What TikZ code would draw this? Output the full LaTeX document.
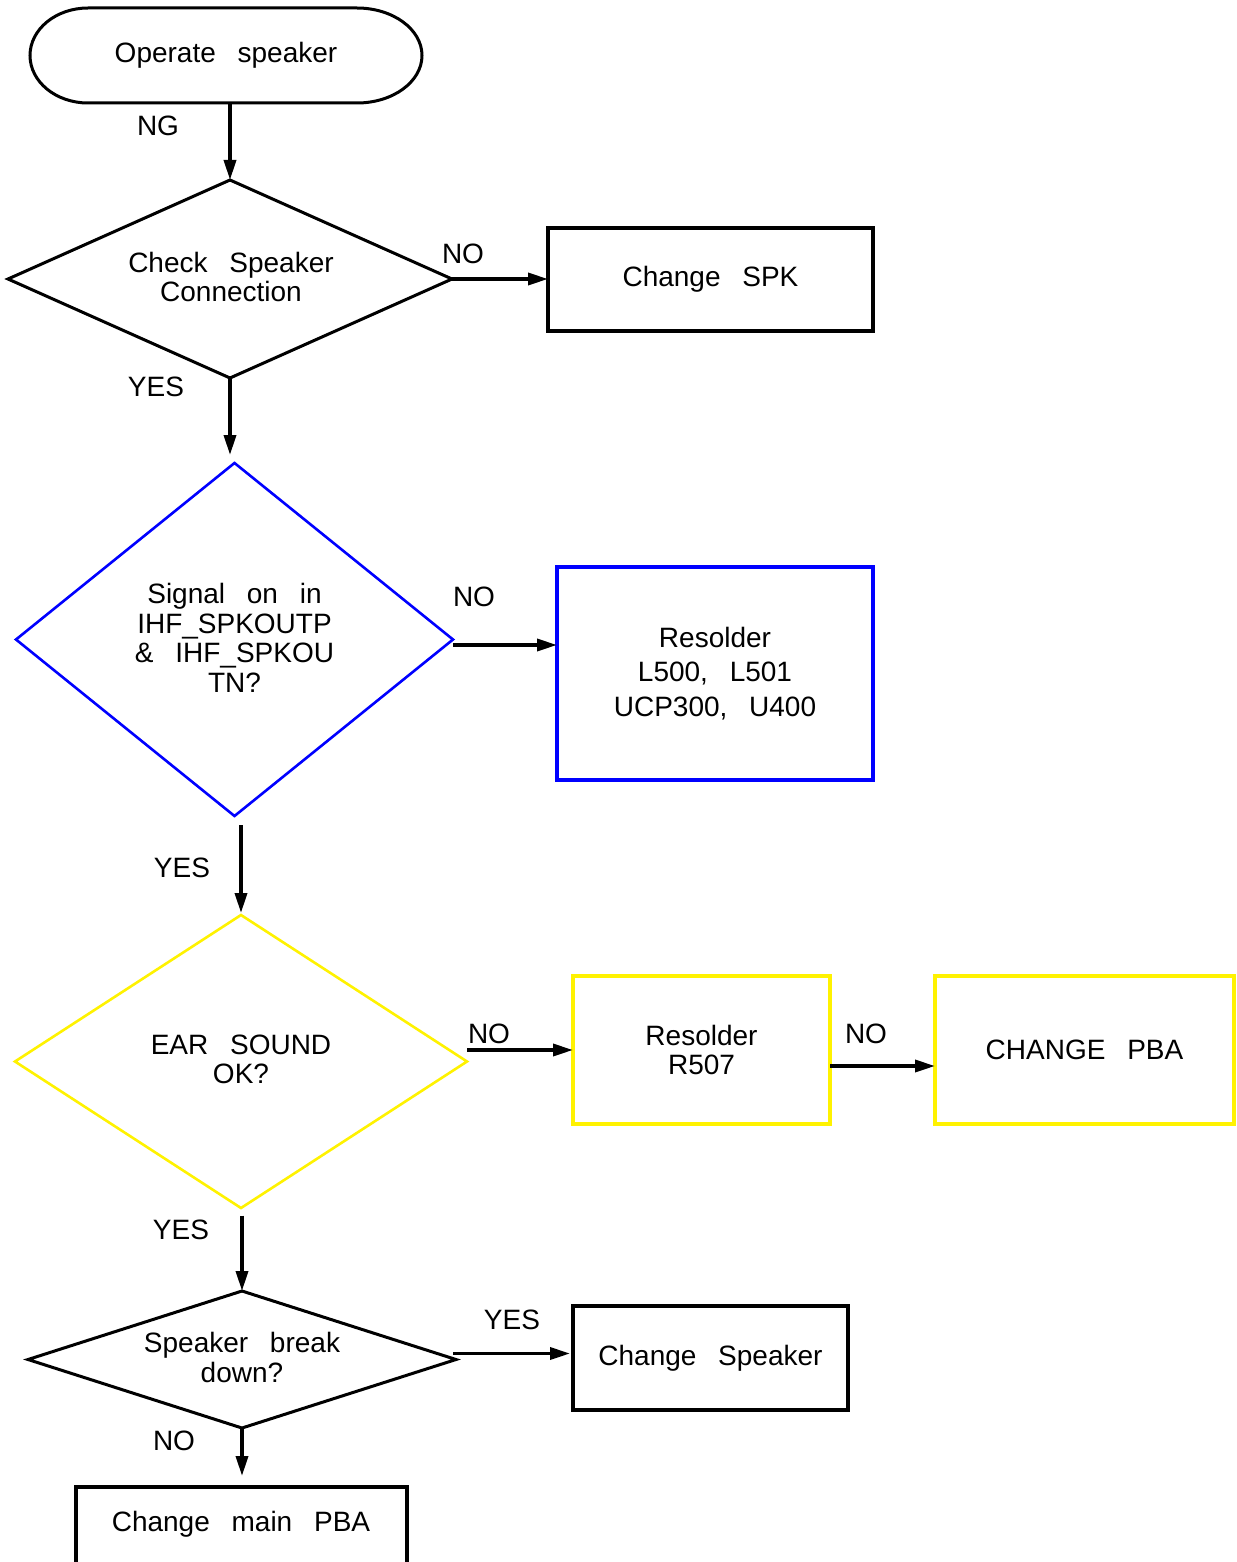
\documentclass[tikz,border=0pt]{standalone}
\usepackage{fontspec}
\setmainfont{Liberation Sans}[WordSpace=2.8]
\usetikzlibrary{arrows.meta,shapes.geometric}
\begin{document}
\begin{tikzpicture}[x=1pt,y=-1pt,
  every node/.style={font=\fontsize{28}{29.5}\selectfont, inner sep=0pt, outer sep=0pt},
  boxb/.style={draw=#1, line width=3.8pt, align=center},
  boxb/.default=black,
  boxy/.style={draw=yellow, line width=3.3pt, align=center},
  dia/.style={diamond, draw=#1, line width=3pt},
  dia/.default=black,
  diac/.style={diamond, draw=#1, line width=2.6pt},
  txt/.style={align=center},
  arr/.style={-{Triangle[length=20pt,width=12pt]}, line width=3.5pt}]
\useasboundingbox (0,0) rectangle (1236,1562);

% terminal
\node (term) at (226,55.5) [minimum width=392pt, minimum height=95pt] {Operate speaker};
\draw[line width=3pt] (88,8) -- (357,8)
  arc[start angle=-90, end angle=90, x radius=65, y radius=47.5]
  -- (88,103)
  arc[start angle=90, end angle=270, x radius=58, y radius=47.5] -- cycle;

% decision 1
\node[dia, minimum width=444pt, minimum height=198pt] (d1) at (230,279) {};
\node[txt] (t1) at (231,277) {Check Speaker\\Connection};
\node[boxb, minimum width=325pt, minimum height=103pt] (b1) at (710.5,279.5) {Change SPK};

% decision 2
\node[diac=blue, minimum width=437pt, minimum height=353pt] (d2) at (234.5,639.5) {};
\node[txt] (t2) at (234.5,638) {Signal on in\\IHF\_SPKOUTP\\\& IHF\_SPKOU\\TN?};
\node[boxb=blue, minimum width=316pt, minimum height=213pt] (b2) at (715,673.5) {Resolder\\[5pt]L500, L501\\[5pt]UCP300, U400};

% decision 3
\node[diac=yellow, minimum width=452pt, minimum height=293pt] (d3) at (241,1061.5) {};
\node[txt] (t3) at (241,1059.5) {EAR SOUND\\OK?};
\node[boxy, minimum width=257pt, minimum height=148pt] (b3) at (701.5,1050) {Resolder\\R507};
\node[boxy, minimum width=299pt, minimum height=148pt] (b4) at (1084.5,1050) {CHANGE PBA};

% decision 4
\node[dia, minimum width=428pt, minimum height=137pt] (d4) at (242,1359.5) {};
\node[txt] (t4) at (242,1357.5) {Speaker break\\down?};
\node[boxb, minimum width=275pt, minimum height=104pt] (b5) at (710.5,1358) {Change Speaker};
\node[boxb, minimum width=331pt, minimum height=150pt] (b6) at (241.5,1562) {};
\node[txt] (t6) at (241,1524) {Change main PBA};

% connectors
\draw[arr] (d1.north |- term.south) -- (d1.north);
\draw[arr] (d1.east) -- (b1.west |- d1.east);
\draw[arr] (d1.south) -- ([yshift=8pt]d2.north -| d1.south);
\draw[arr] ([yshift=-5.5pt]d2.east) -- ([yshift=-5.5pt]d2.east -| b2.west);
\draw[arr] ([yshift=-9pt]d2.south -| d3.north) -- ([yshift=2pt]d3.north);
\draw[arr] ([yshift=11.5pt]d3.east) -- ([yshift=11.5pt]d3.east -| b3.west);
\draw[arr] ([yshift=-16pt]b3.east) -- ([yshift=-16pt]b3.east -| b4.west);
\draw[arr] ([yshift=-7.5pt]d3.south -| d4.north) -- (d4.north);
\draw[arr] ([shift={(-3pt,6pt)}]d4.east) -- ([shift={(-3pt,6pt)}]d4.east -| b5.west);
\draw[arr] (d4.south) -- ([yshift=11pt]b6.north -| d4.south);

% labels
\node (l1) at (158,126) {NG};
\node (l2) at (463,254) {NO};
\node (l3) at (156,387) {YES};
\node (l4) at (474,597) {NO};
\node (l5) at (182,868) {YES};
\node (l6) at (489,1034) {NO};
\node (l7) at (866,1034) {NO};
\node (l8) at (181,1230) {YES};
\node (l9) at (512,1320) {YES};
\node (l10) at (174,1441) {NO};
\end{tikzpicture}
\end{document}
